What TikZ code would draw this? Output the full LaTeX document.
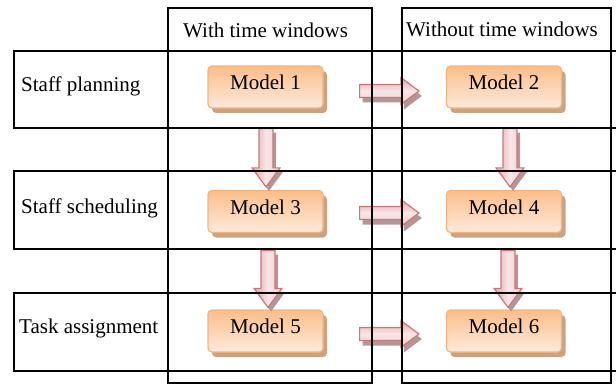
\documentclass[tikz,border=0pt]{standalone}
\usepackage{fontspec}
\setmainfont{Liberation Serif}
\usetikzlibrary{calc,shadows}
\definecolor{modelborder}{HTML}{F8B37A}
\definecolor{modeltop}{HTML}{FBBE8A}
\definecolor{modelbottom}{HTML}{FEEADD}
\definecolor{modelshadow}{HTML}{C9A384}
\definecolor{arrowborder}{HTML}{C9777D}
\definecolor{arrowdark}{HTML}{E6A4A8}
\definecolor{arrowlight}{HTML}{F8E6E6}
\definecolor{arrowshadow}{HTML}{A88484}
\newcommand\hblock[5]{\path[#1] let \p1=(#2), \p2=(#3) in
  (\x1+#4,\y1+6.5pt+#5) -- (\x2-18pt+#4,\y1+6.5pt+#5) -- (\x2-18pt+#4,\y1+13.5pt+#5) --
  (\x2+#4,\y1+#5) -- (\x2-18pt+#4,\y1-13.5pt+#5) -- (\x2-18pt+#4,\y1-6.5pt+#5) --
  (\x1+#4,\y1-6.5pt+#5) -- cycle;}
\newcommand\vblock[5]{\path[#1] let \p1=(#2), \p2=(#3) in
  (\x1-7pt+#4,\y1+#5) -- (\x1-7pt+#4,\y2+19pt+#5) -- (\x1-14pt+#4,\y2+19pt+#5) --
  (\x1+#4,\y2+#5) -- (\x1+14pt+#4,\y2+19pt+#5) -- (\x1+7pt+#4,\y2+19pt+#5) --
  (\x1+7pt+#4,\y1+#5) -- cycle;}
\tikzset{
  grid/.style={draw=black, line width=1.8pt},
  model/.style={draw=modelborder, line width=1.2pt, rounded corners=4pt,
    top color=modeltop, bottom color=modelbottom,
    drop shadow={shadow xshift=4pt, shadow yshift=-5pt, fill=modelshadow, opacity=1},
    minimum width=115pt, minimum height=42pt, inner sep=0pt,
    text height=11pt, text depth=6pt, font=\fontsize{21}{25}\selectfont},
  lab/.style={anchor=base west, inner sep=0pt, font=\fontsize{21}{25}\selectfont},
  ashadow/.style={fill=arrowshadow, fill opacity=0.85},
  harrowbody/.style={draw=arrowborder, line width=1.2pt, line join=miter,
    top color=arrowdark, bottom color=arrowdark!60!white, middle color=arrowlight},
  varrowbody/.style={draw=arrowborder, line width=1.2pt, line join=miter,
    left color=arrowdark, right color=arrowdark!60!white, middle color=arrowlight},
}
\begin{document}
\begin{tikzpicture}[x=1pt,y=-1pt]
\path[use as bounding box] (0,0) rectangle (616,385);
\clip (0,0) rectangle (616,385);
% model boxes
\path (265.5,87) node[model] (m1) {Model 1}
      (504,87) node[model] (m2) {Model 2}
      (265.5,211.5) node[model] (m3) {Model 3}
      (504,211.5) node[model] (m4) {Model 4}
      (265.5,331) node[model] (m5) {Model 5}
      (504,331) node[model] (m6) {Model 6};
% arrow end points
\coordinate (h1s) at ($(m1.east)+(36,4)$);
\coordinate (h1e) at ($(m2.west)+(-27,4)$);
\coordinate (h2s) at ($(m3.east)+(36,1.5)$);
\coordinate (h2e) at ($(m4.west)+(-27,1.5)$);
\coordinate (h3s) at ($(m5.east)+(36,3)$);
\coordinate (h3e) at ($(m6.west)+(-27,3)$);
\coordinate (v1s) at ($(m1.south)+(0.5,20)$);
\coordinate (v1e) at ($(m3.north)+(0.5,-3)$);
\coordinate (v2s) at ($(m2.south)+(6,20)$);
\coordinate (v2e) at ($(m4.north)+(6,-3)$);
\coordinate (v3s) at ($(m3.south)+(2.5,17.5)$);
\coordinate (v3e) at ($(m5.north)+(2.5,-2)$);
\coordinate (v4s) at ($(m4.south)+(4,17.5)$);
\coordinate (v4e) at ($(m6.north)+(4,-2)$);
% arrows
\hblock{ashadow}{h1s}{h1e}{3pt}{-5pt}
\hblock{harrowbody}{h1s}{h1e}{0pt}{0pt}
\hblock{ashadow}{h2s}{h2e}{3pt}{-5pt}
\hblock{harrowbody}{h2s}{h2e}{0pt}{0pt}
\hblock{ashadow}{h3s}{h3e}{3pt}{-5pt}
\hblock{harrowbody}{h3s}{h3e}{0pt}{0pt}
\vblock{ashadow}{v1s}{v1e}{3pt}{-4pt}
\vblock{varrowbody}{v1s}{v1e}{0pt}{0pt}
\vblock{ashadow}{v2s}{v2e}{3pt}{-4pt}
\vblock{varrowbody}{v2s}{v2e}{0pt}{0pt}
\vblock{ashadow}{v3s}{v3e}{3pt}{-4pt}
\vblock{varrowbody}{v3s}{v3e}{0pt}{0pt}
\vblock{ashadow}{v4s}{v4e}{3pt}{-4pt}
\vblock{varrowbody}{v4s}{v4e}{0pt}{0pt}
% table lines
\draw[grid] (14,51) rectangle (640,128);
\draw[grid] (14,171) rectangle (640,249);
\draw[grid] (14,293) rectangle (640,371);
\draw[grid] (168,8) rectangle (372,383);
\draw[grid] (402,8) rectangle (611,383);
% labels
\node[lab] (hw) at (183,38) {With time windows};
\node[lab] (hwo) at (406,37) {Without time windows};
\node[lab] (r1) at (21,92) {Staff planning};
\node[lab] (r2) at (21,213) {Staff scheduling};
\node[lab] (r3) at (19,333) {Task assignment};
\end{tikzpicture}
\end{document}
